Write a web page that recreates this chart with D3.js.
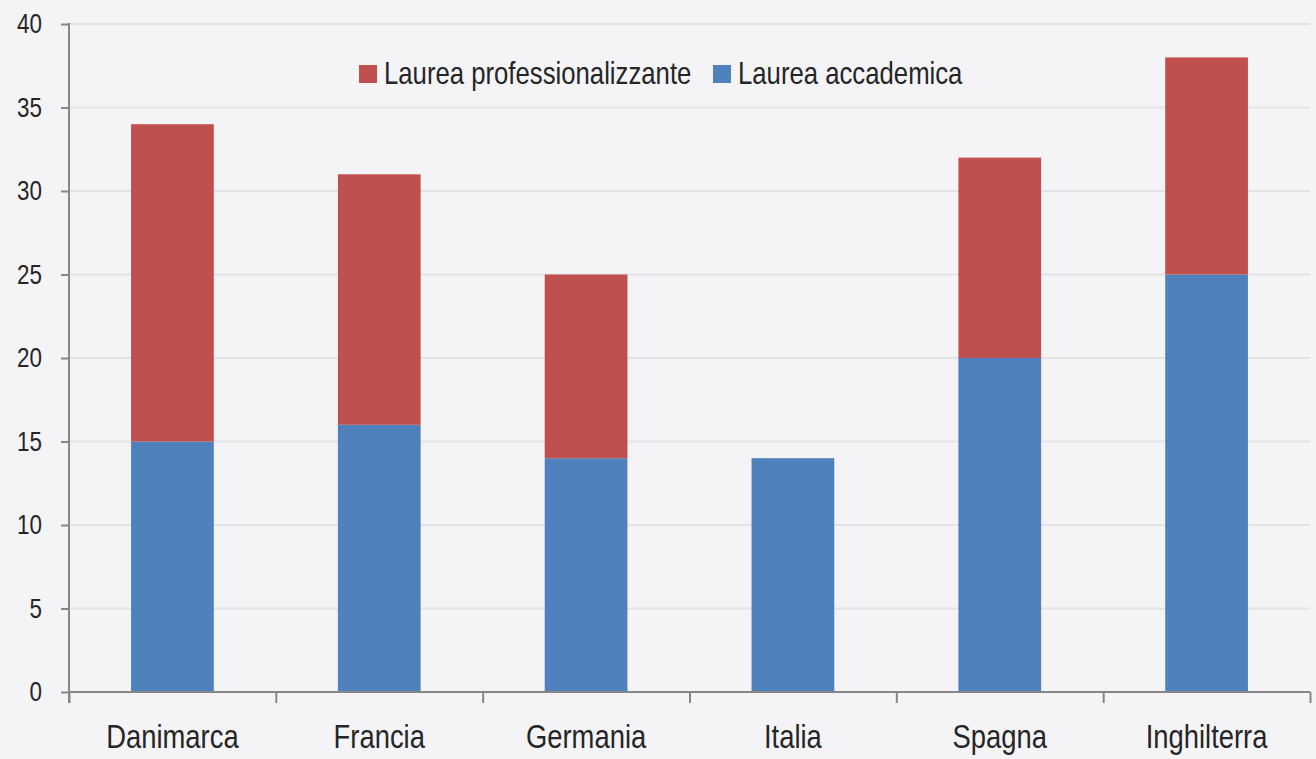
<!DOCTYPE html>
<html>
<head>
<meta charset="utf-8">
<script src="https://cdn.jsdelivr.net/npm/d3@7"></script>
<style>
  body { margin: 0; background: #f4f4f7; }
  svg { display: block; }
  text { font-family: "Liberation Sans", Arial, sans-serif; fill: #262626; }
</style>
</head>
<body>
<div id="vis"></div>
<script>
// chart values
var paesi = ["Danimarca", "Francia", "Germania", "Italia", "Spagna", "Inghilterra"];
var accademica = [15, 16, 14, 14, 20, 25];
var professionalizzante = [19, 15, 11, 0, 12, 13];
var serieNomi = ["Laurea professionalizzante", "Laurea accademica"];
var yTicks = [0, 5, 10, 15, 20, 25, 30, 35, 40];

var W = 1316, H = 759;
var margin = {top: 24, right: 6, bottom: 67, left: 69}
  , width = W - margin.left - margin.right
  , height = H - margin.top - margin.bottom;
var narrow = 0.83; // the original uses a condensed face

var colori = {"Laurea accademica": "#4f81bd", "Laurea professionalizzante": "#c0504d"};

var svg = d3.select("#vis").append("svg")
  .attr("width", W)
  .attr("height", H)
  .append("g")
  .attr("transform", "translate(" + margin.left + "," + margin.top + ")");

var x = d3.scaleBand()
  .domain(paesi)
  .range([0, width])
  .paddingInner(0.6)
  .paddingOuter(0.3);

// category boundaries for the tick marks
var xEdge = d3.scaleLinear().domain([0, paesi.length]).range([0, width]);

var y = d3.scaleLinear()
  .domain([0, 40])
  .range([height, 0]);

// gridlines
svg.append("g")
  .selectAll("line")
  .data(yTicks.filter(function(d) { return d > 0; }))
  .join("line")
  .attr("x1", 0)
  .attr("x2", width)
  .attr("y1", function(d) { return y(d); })
  .attr("y2", function(d) { return y(d); })
  .style("stroke", "#e3e3e7")
  .style("stroke-width", 2);

// stacked data
var rows = paesi.map(function(p, i) {
  return {paese: p, "Laurea accademica": accademica[i], "Laurea professionalizzante": professionalizzante[i]};
});
var stack = d3.stack().keys(["Laurea accademica", "Laurea professionalizzante"]);
var series = stack(rows);

svg.append("g")
  .selectAll("g")
  .data(series)
  .join("g")
  .style("fill", function(d) { return colori[d.key]; })
  .selectAll("rect")
  .data(function(d) { return d.filter(function(v) { return v[1] > v[0]; }); })
  .join("rect")
  .attr("x", function(d) { return x(d.data.paese); })
  .attr("y", function(d) { return y(d[1]); })
  .attr("width", x.bandwidth())
  .attr("height", function(d) { return y(d[0]) - y(d[1]); });

// y axis
var yAxis = svg.append("g")
  .attr("class", "y axis")
  .call(d3.axisLeft(y).tickValues(yTicks).tickSize(8).tickPadding(19).tickFormat(d3.format("d")));
yAxis.select(".domain").remove();
yAxis.selectAll(".tick line").style("stroke", "#878787").style("stroke-width", 2);
yAxis.selectAll(".tick text")
  .style("font-size", "27px").style("font-family", null)
  .attr("x", -27 / narrow)
  .attr("transform", "scale(" + narrow + ",1)");
yAxis.append("line")
  .attr("x1", 0).attr("x2", 0)
  .attr("y1", y(40) - 1).attr("y2", height + 11)
  .style("stroke", "#878787").style("stroke-width", 2);

// x axis line with ticks at category edges
var xAxis = svg.append("g")
  .attr("class", "x axis")
  .attr("transform", "translate(0," + height + ")")
  .call(d3.axisBottom(xEdge).tickValues(d3.range(paesi.length + 1)).tickSize(11).tickFormat(""));
xAxis.select(".domain").attr("d", "M0,0H" + width).style("stroke", "#878787").style("stroke-width", 2);
xAxis.selectAll(".tick line").style("stroke", "#878787").style("stroke-width", 2);

// category labels
svg.append("g")
  .selectAll("text")
  .data(paesi)
  .join("text")
  .attr("transform", function(d) {
    return "translate(" + (x(d) + x.bandwidth() / 2) + "," + (height + 56) + ") scale(" + narrow + ",1)";
  })
  .attr("text-anchor", "middle")
  .style("font-size", "33px")
  .text(function(d) { return d; });

// legend
var legendX = [359 - margin.left, 713 - margin.left];
var legend = svg.append("g")
  .selectAll("g")
  .data(serieNomi)
  .join("g")
  .attr("transform", function(d, i) { return "translate(" + legendX[i] + "," + (65 - margin.top) + ")"; });
legend.append("rect")
  .attr("width", 18)
  .attr("height", 18)
  .style("fill", function(d) { return colori[d]; });
legend.append("text")
  .attr("transform", "translate(25,19) scale(" + narrow + ",1)")
  .style("font-size", "31px")
  .text(function(d) { return d; });
</script>
</body>
</html>
